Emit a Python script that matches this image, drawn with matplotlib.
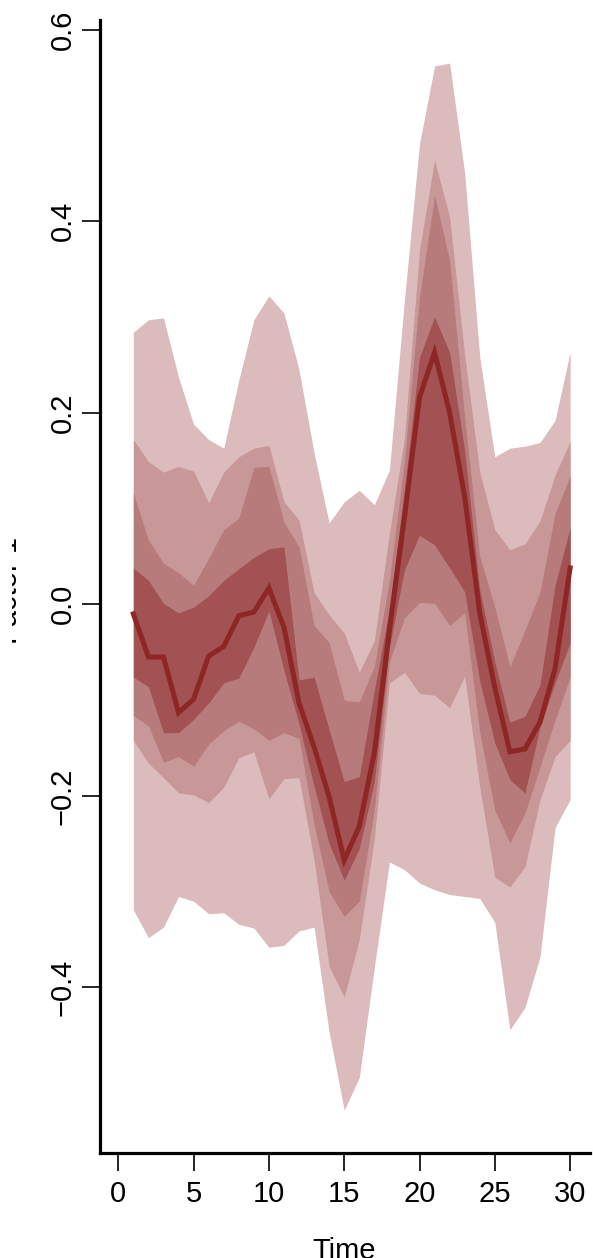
import numpy as np
import matplotlib.pyplot as plt
from matplotlib.transforms import Bbox

plt.rcParams['font.family'] = ['Liberation Sans', 'DejaVu Sans']

# time steps
time = list(range(1, 31))

# median path
median = [-0.010, -0.055, -0.055, -0.113, -0.099, -0.054, -0.044, -0.012, -0.008, 0.017,
          -0.024, -0.103, -0.149, -0.201, -0.267, -0.232, -0.155, -0.027, 0.091, 0.216,
          0.263, 0.200, 0.112, -0.009, -0.087, -0.154, -0.151, -0.123, -0.067, 0.038]

# fan bounds, outer to inner
upper_1 = [0.284, 0.297, 0.299, 0.237, 0.188, 0.172, 0.163, 0.234, 0.297, 0.322,
           0.304, 0.245, 0.158, 0.085, 0.107, 0.119, 0.104, 0.140, 0.318, 0.481,
           0.562, 0.565, 0.450, 0.258, 0.154, 0.163, 0.165, 0.169, 0.192, 0.263]
upper_2 = [0.172, 0.149, 0.138, 0.144, 0.139, 0.106, 0.138, 0.154, 0.163, 0.166,
           0.107, 0.088, 0.012, -0.011, -0.030, -0.071, -0.038, 0.074, 0.174, 0.370,
           0.464, 0.404, 0.260, 0.138, 0.078, 0.057, 0.063, 0.087, 0.135, 0.170]
upper_3 = [0.116, 0.067, 0.043, 0.033, 0.020, 0.048, 0.078, 0.090, 0.143, 0.144,
           0.086, 0.060, -0.022, -0.040, -0.100, -0.102, -0.065, 0.025, 0.150, 0.321,
           0.427, 0.359, 0.195, 0.050, -0.003, -0.065, -0.027, 0.013, 0.095, 0.134]
upper_4 = [0.038, 0.025, 0.001, -0.009, -0.003, 0.009, 0.025, 0.037, 0.049, 0.058,
           0.060, -0.079, -0.076, -0.131, -0.185, -0.180, -0.090, -0.005, 0.120, 0.258,
           0.300, 0.263, 0.160, 0.015, -0.060, -0.123, -0.117, -0.084, 0.020, 0.080]
lower_4 = [-0.076, -0.086, -0.134, -0.134, -0.120, -0.103, -0.082, -0.077, -0.045, -0.007,
           -0.069, -0.125, -0.190, -0.250, -0.288, -0.255, -0.185, -0.045, 0.036, 0.072,
           0.062, 0.038, 0.013, -0.080, -0.145, -0.183, -0.197, -0.128, -0.082, -0.040]
lower_3 = [-0.116, -0.127, -0.165, -0.159, -0.169, -0.146, -0.132, -0.122, -0.130, -0.142,
           -0.134, -0.140, -0.230, -0.300, -0.326, -0.310, -0.215, -0.060, -0.014, 0.002,
           0.001, -0.022, -0.009, -0.134, -0.215, -0.249, -0.218, -0.170, -0.121, -0.076]
lower_2 = [-0.142, -0.166, -0.181, -0.197, -0.199, -0.207, -0.191, -0.160, -0.154, -0.203,
           -0.182, -0.181, -0.267, -0.378, -0.410, -0.350, -0.245, -0.082, -0.071, -0.093,
           -0.095, -0.108, -0.075, -0.191, -0.285, -0.295, -0.274, -0.204, -0.159, -0.142]
lower_1 = [-0.319, -0.348, -0.337, -0.305, -0.310, -0.323, -0.322, -0.334, -0.338, -0.358,
           -0.356, -0.341, -0.337, -0.447, -0.528, -0.494, -0.379, -0.269, -0.277, -0.291,
           -0.298, -0.303, -0.305, -0.307, -0.332, -0.444, -0.421, -0.368, -0.233, -0.204]

fan_colors = ['#dbbbbc', '#c89899', '#b87b7b', '#a25252']
line_color = '#8e2626'

x_ticks = [0, 5, 10, 15, 20, 25, 30]
y_ticks = [-0.4, -0.2, 0.0, 0.2, 0.4, 0.6]

fig = plt.figure(figsize=(5.93, 12.58), dpi=100)
ax = fig.add_axes([100 / 593, 1 - 1152.7 / 1258, 490 / 593, 1132.7 / 1258])

bands = [(lower_1, upper_1), (lower_2, upper_2), (lower_3, upper_3), (lower_4, upper_4)]
for (lo, hi), col in zip(bands, fan_colors):
    ax.fill_between(time, lo, hi, color=col, linewidth=0)
ax.plot(time, median, color=line_color, linewidth=3.6, solid_joinstyle='miter')

ax.set_xlim(-1.215, 31.32)
ax.set_ylim(-0.5725, 0.610)

for side in ['top', 'right']:
    ax.spines[side].set_visible(False)
for side in ['left', 'bottom']:
    ax.spines[side].set_linewidth(2.3)

ax.set_xticks(x_ticks)
ax.set_xticklabels([str(t) for t in x_ticks])
ax.set_yticks(y_ticks)
ax.set_yticklabels(['\u22120.4', '\u22120.2', '0.0', '0.2', '0.4', '0.6'],
                   rotation=90, va='center')
ax.tick_params(direction='out', length=13, width=1.2, labelsize=21, pad=7)
ax.tick_params(axis='y', pad=4)

# y label sits mostly outside the drawing area, only its foot shows
ylab = fig.text(17.5 / 593, 1 - 590 / 1258, 'Factor 1', rotation=90, rotation_mode='anchor',
                ha='center', va='baseline', fontsize=21)
ylab.set_clip_box(Bbox.from_extents(12, 0, 593, 1258))
ylab.set_clip_on(True)
fig.text(344 / 593, 1 - 1259 / 1258, 'Time', ha='center', va='baseline', fontsize=21)

fig.savefig('out.png', dpi=100)
